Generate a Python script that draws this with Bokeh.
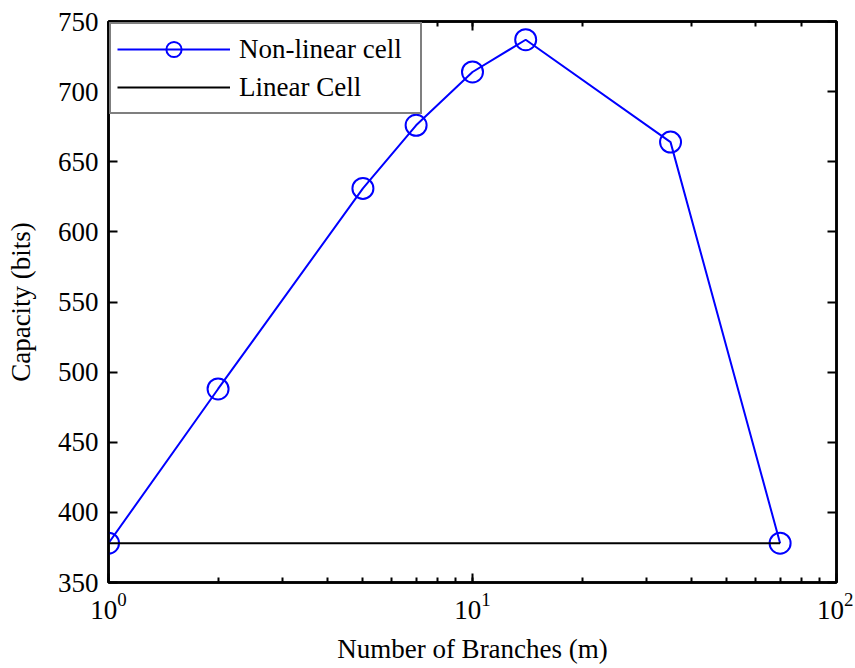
from bokeh.plotting import figure
from bokeh.models import LogAxis, LinearAxis, Range1d, FixedTicker, Legend, LegendItem
from bokeh.embed import file_html
from bokeh.resources import INLINE

# Data
branches = [1, 2, 5, 7, 10, 14, 35, 70]
capacity_nonlinear = [378, 488, 631, 676, 714, 737, 664, 378]
linear_x = [1, 70]
linear_capacity = [378, 378]
y_ticks = [350, 400, 450, 500, 550, 600, 650, 700, 750]

FONT = "Liberation Serif"
FS = "27px"

p = figure(width=853, height=666, x_axis_type="log",
           x_range=Range1d(1, 100), y_range=Range1d(350, 750),
           output_backend="svg", toolbar_location=None,
           min_border_left=108, min_border_right=17,
           min_border_top=21, min_border_bottom=84)
p.xgrid.visible = False
p.ygrid.visible = False
p.outline_line_color = "black"
p.outline_line_width = 2.5
p.background_fill_color = "white"
p.border_fill_color = "white"

r_line = p.line(branches, capacity_nonlinear, line_color="#0000ff", line_width=2)
r_circ = p.scatter(branches, capacity_nonlinear, marker="circle", size=21,
                   fill_color=None, line_color="#0000ff", line_width=2)
r_lin = p.line(linear_x, linear_capacity, line_color="black", line_width=2)

def style_axis(ax, labels=True):
    ax.axis_line_color = "black"
    ax.axis_line_width = 2.5
    ax.major_tick_in = 9
    ax.major_tick_out = 0
    ax.minor_tick_in = 5
    ax.minor_tick_out = 0
    ax.major_tick_line_width = 2
    ax.minor_tick_line_width = 2
    ax.major_tick_line_color = "black"
    ax.minor_tick_line_color = "black"
    ax.major_label_text_font = FONT
    if labels:
        ax.major_label_text_font_size = FS
        ax.major_label_text_color = "black"
    else:
        ax.major_label_text_font_size = "1px"
        ax.major_label_text_alpha = 0
        ax.major_label_standoff = 0
    ax.axis_label_text_font = FONT
    ax.axis_label_text_font_size = FS
    ax.axis_label_text_font_style = "normal"
    ax.axis_label_text_color = "black"

xa = p.xaxis[0]
style_axis(xa)
xa.axis_label = "Number of Branches (m)"
xa.major_label_standoff = 10
xa.axis_label_standoff = 12

ya = p.yaxis[0]
style_axis(ya)
ya.ticker = FixedTicker(ticks=y_ticks)
ya.minor_tick_in = 0
ya.axis_label = "Capacity (bits)"
ya.major_label_standoff = 10
ya.axis_label_standoff = 19

top = LogAxis()
style_axis(top, labels=False)
p.add_layout(top, "above")

right = LinearAxis(ticker=FixedTicker(ticks=y_ticks))
style_axis(right, labels=False)
right.minor_tick_in = 0
p.add_layout(right, "right")

legend = Legend(items=[LegendItem(label="Non-linear cell", renderers=[r_line, r_circ]),
                       LegendItem(label="Linear Cell", renderers=[r_lin])],
                location="top_left")
legend.margin = 1
legend.padding = 6
legend.spacing = 0
legend.glyph_width = 113
legend.glyph_height = 38
legend.label_height = 38
legend.label_width = 175
legend.label_standoff = 9
legend.label_text_font = FONT
legend.label_text_font_size = FS
legend.label_text_color = "black"
legend.border_line_color = "black"
legend.border_line_width = 2.5
legend.background_fill_alpha = 1
legend.background_fill_color = "white"
p.add_layout(legend, "center")

open("out.html", "w").write(file_html(p, INLINE))
